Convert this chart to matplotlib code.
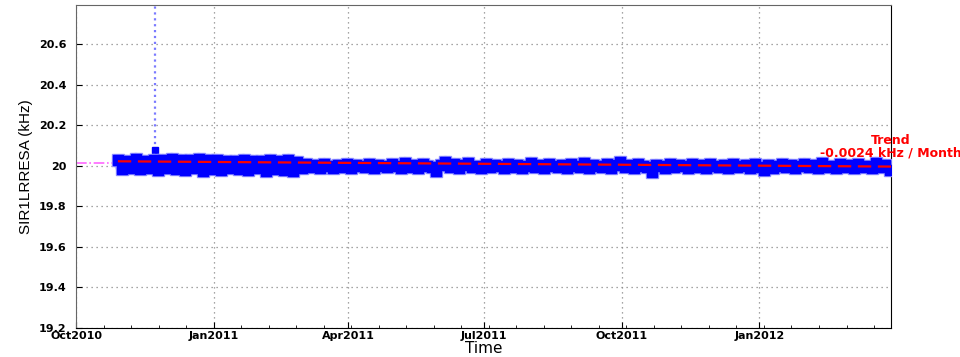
import matplotlib
matplotlib.use("Agg")
import matplotlib.pyplot as plt
import matplotlib.dates as mdates
from matplotlib.ticker import AutoMinorLocator
import pandas as pd

# SIR1LRRESA readings, one every 3 days from 29 Oct 2010
freq = [
    20.03, 19.985, 20.025, 19.99, 20.035, 19.985, 20.025, 19.99, 20.03, 19.98,
    20.03, 19.99, 20.035, 19.985, 20.03, 19.98, 20.03, 19.99, 20.035, 19.975,
    20.03, 19.985, 20.03, 19.98, 20.025, 19.99, 20.025, 19.985, 20.03, 19.98,
    20.025, 19.99, 20.025, 19.975, 20.03, 19.985, 20.025, 19.98, 20.03, 19.975,
    20.02, 19.99,
    20.01, 19.995, 20.005, 19.99, 20.01, 20.0, 19.99, 20.005, 19.995, 20.01,
    19.99, 20.005, 20.0, 19.995, 20.01, 19.99, 20.005, 20.0, 19.995, 20.01,
    20.0, 19.99, 20.015, 19.995, 20.005, 19.99, 20.01, 20.0, 19.995, 19.975,
    20.005, 20.02, 19.995, 20.01, 19.99, 20.005, 20.015, 19.995, 20.0, 19.99,
    20.01, 19.995, 20.005, 20.0, 19.99, 20.01, 19.995, 20.005, 19.99, 20.0,
    20.015, 19.995, 20.005, 19.99, 20.01, 20.0, 19.995, 20.005, 19.99, 20.01,
    20.0, 19.995, 20.015, 19.99, 20.005, 20.0, 19.995, 20.01, 19.99, 20.005,
    20.02, 19.995, 20.005, 19.99, 20.01, 20.0, 19.995, 19.972, 20.005, 20.0,
    19.99, 20.01, 19.995, 20.005, 20.0, 19.99, 20.01, 19.995, 20.005, 19.99,
    20.01, 20.0, 19.995, 20.005, 19.99, 20.01, 19.995, 20.0, 20.005, 19.99,
    20.01, 19.995, 19.978, 20.005, 19.99, 20.0, 20.01, 19.995, 20.005, 19.99,
    20.0, 20.01, 19.995, 20.005, 19.99, 20.015, 19.995, 20.0, 19.99, 20.01,
    19.995, 20.005, 19.99, 20.01, 19.995, 20.0, 19.99, 20.015, 19.995, 20.005,
    19.98,
]
dates = pd.date_range("2010-10-29", periods=len(freq), freq="3D")

# outlier spike
spike_dates = pd.to_datetime(["2010-11-23", "2010-11-23"])
spike_vals = [20.08, 21.5]

# trend and mean
trend_dates = pd.to_datetime(["2010-10-29", "2012-03-29"])
trend_vals = [20.023, 19.997]
mean_val = 20.015

fig = plt.figure(figsize=(9.6, 3.57), dpi=100)
ax = fig.add_axes([0.0792, 0.0812, 0.8490, 0.905])

ax.axhline(mean_val, color="#ff66ff", linestyle="-.", lw=1.2, zorder=2)

ax.plot(spike_dates, spike_vals, linestyle=":", color="#7a7aff", lw=1.6,
        marker="s", markersize=5, markerfacecolor="#0000ff",
        markeredgecolor="#0000ff", zorder=3)
# soft halo under the markers
ax.plot(dates, freq, linestyle="-", lw=9, solid_capstyle="butt", color="#a0a0ff",
        alpha=0.5, zorder=3)
ax.plot(dates, freq, linestyle="none", marker="s", markersize=8,
        color="#8f8fff", zorder=3)
ax.plot(dates, freq, linestyle="-", color="#0000ff", lw=5, zorder=4)
ax.plot(dates, freq, linestyle="none", marker="s", markersize=6.5,
        color="#0000ff", zorder=4)

ax.plot(trend_dates, trend_vals, color="red", linestyle=(0, (6, 3)), lw=1.6, zorder=5)

ax.text(1.0, 20.095, "Trend\n-0.0024 kHz / Month", transform=ax.get_yaxis_transform(),
        ha="center", va="center", color="red", fontsize=9, fontweight="bold",
        family="DejaVu Sans", linespacing=1.0, clip_on=False)

ax.set_xlim(pd.Timestamp("2010-10-01"), pd.Timestamp("2012-03-29"))
ax.set_ylim(19.2, 20.795)
ax.set_yticks([19.2, 19.4, 19.6, 19.8, 20.0, 20.2, 20.4, 20.6])
ax.set_yticklabels(["19.2", "19.4", "19.6", "19.8", "20", "20.2", "20.4", "20.6"])

ax.xaxis.set_major_locator(mdates.MonthLocator(bymonth=[1, 4, 7, 10]))
ax.xaxis.set_major_formatter(mdates.DateFormatter("%b%Y"))
ax.xaxis.set_minor_locator(AutoMinorLocator(5))

ax.grid(True, which="major", linestyle=(0, (1, 3)), color="#888888", lw=0.9)
ax.tick_params(axis="both", which="both", direction="in", labelsize=8)
ax.tick_params(axis="y", pad=7)
ax.tick_params(axis="x", pad=2.5)
ax.tick_params(axis="both", which="major", length=4)
ax.tick_params(axis="x", which="minor", length=2.5)
for lab in ax.get_xticklabels() + ax.get_yticklabels():
    lab.set_fontweight("bold")
    lab.set_family("DejaVu Sans")

for side in ["left", "top"]:
    ax.spines[side].set_color("#666666")
for side in ["right", "bottom"]:
    ax.spines[side].set_color("black")

ax.set_ylabel("SIR1LRRESA (kHz)", fontsize=11, family="Liberation Sans",
              labelpad=4)
ax.set_xlabel("Time", fontsize=11, family="DejaVu Sans", labelpad=0)

fig.savefig("out.png", dpi=100)
